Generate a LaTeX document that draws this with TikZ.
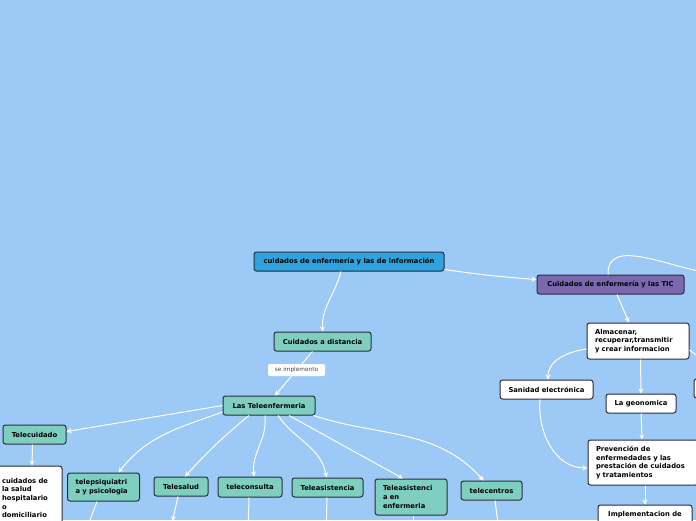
\documentclass[tikz,border=0pt]{standalone}
\usepackage{fontspec}
\setmainfont{DejaVu Sans}
\usetikzlibrary{arrows.meta}
\definecolor{bgc}{HTML}{9CC9F5}
\definecolor{teal}{HTML}{7ECFC0}
\definecolor{topblue}{HTML}{2EA3DD}
\definecolor{purp}{HTML}{7B68AE}
\definecolor{bd}{HTML}{2B2B3B}
\tikzset{
  box/.style={draw=bd, line width=1pt, rounded corners=2.5pt, inner sep=0pt,
    font=\bfseries\fontsize{6.8}{8.6}\selectfont, text=black},
  tealbox/.style={box, fill=teal, align=center},
  whitebox/.style={box, fill=white, align=center},
  leftbox/.style={align=left, inner xsep=8pt},
  edge/.style={draw=white, line width=1pt, -{Stealth[length=5pt,width=5pt]}},
  plain/.style={draw=white, line width=1pt},
  lbl/.style={fill=white, rounded corners=2pt, inner sep=0pt, minimum width=57pt,
    minimum height=12pt, font=\fontsize{5.8}{6}\selectfont, text=black!70}
}
\begin{document}
\begin{tikzpicture}[x=1pt,y=1pt]
\fill[bgc] (0,0) rectangle (696,-520);
\useasboundingbox (0,0) rectangle (696,-520);

% nodes
\node[box, fill=topblue, minimum width=190pt, minimum height=19pt] (top) at (349,-261.5)
  {cuidados de enfermería y las de información};
\node[box, fill=purp, minimum width=147pt, minimum height=19pt] (tic) at (610.5,-284.5)
  {Cuidados de enfermería y las TIC};
\node[tealbox, minimum width=97pt, minimum height=19pt] (dist) at (322.5,-341.5) {Cuidados a distancia};
\node[tealbox, minimum width=92pt, minimum height=19pt] (tele) at (269,-405.5) {Las Teleenfermeria};
\node[tealbox, minimum width=63pt, minimum height=19pt] (tcuid) at (34.5,-434.5) {Telecuidado};
\node[whitebox, leftbox, text width=54pt, minimum height=64pt, inner xsep=6pt] (csalud) at (29,-498)
  {cuidados de\\la salud\\hospitalario\\o\\domiciliario\\[8pt]};
\node[tealbox, leftbox, text width=56pt, minimum height=28pt] (tpsiq) at (103.5,-487)
  {telepsiquiatri\\a y psicologia};
\node[tealbox, minimum width=54pt, minimum height=19pt] (tsalud) at (181,-486.5) {Telesalud};
\node[tealbox, minimum width=64pt, minimum height=20pt] (tcons) at (250,-487) {teleconsulta};
\node[tealbox, minimum width=71pt, minimum height=19pt] (tasis) at (327.5,-487.5) {Teleasistencia};
\node[tealbox, leftbox, text width=56pt, minimum height=36pt] (tasenf) at (411,-497)
  {Teleasistenci\\a en\\enfermeria};
\node[tealbox, minimum width=61pt, minimum height=19pt] (tcent) at (491.5,-490.5) {telecentros};

\node[whitebox, leftbox, text width=86pt, minimum height=36pt] (alm) at (638,-341)
  {Almacenar,\\recuperar,transmitir\\y crear informacion};
\node[whitebox, minimum width=93pt, minimum height=19pt] (san) at (546.5,-389.5) {Sanidad electrónica};
\node[whitebox, minimum width=70pt, minimum height=19pt] (geo) at (641,-403.5) {La geonomica};
\node[whitebox, minimum width=36pt, minimum height=19pt] (part) at (712,-388.5) {};
\node[whitebox, leftbox, text width=94pt, minimum height=45pt] (prev) at (643,-462.5)
  {Prevención de\\enfermedades y las\\prestación de cuidados\\y tratamientos};
\node[whitebox, minimum width=94pt, minimum height=26pt, anchor=north] (impl) at (645,-504.5)
  {\raisebox{9pt}{Implementacion de}};

% off-picture ends
\coordinate (b1) at (84.5,-535);
\coordinate (b2) at (172.5,-521);
\coordinate (b3) at (248,-535);
\coordinate (b4) at (326,-535);
\coordinate (b5) at (413,-535);
\coordinate (b6) at (499.5,-535);
\coordinate (r1) at (705,-272);
\coordinate (r2) at (717,-370);

% edges
\draw[edge] ([xshift=-8pt]top.south) to[out=-105,in=92] ([xshift=0pt]dist.north);
\draw[edge] ([yshift=-8pt]top.east) to[bend right=2] ([yshift=5pt]tic.west);
\draw[edge] ([xshift=-10pt]dist.south) -- ([xshift=6pt]tele.north);
\node[lbl] (sei) at (296.5,-370) {se implemento};

\draw[edge] (tele.west) -- ([yshift=3pt]tcuid.east);
\draw[edge] ([yshift=-6.5pt]tele.west) to[out=200,in=52] ([xshift=15pt]tpsiq.north);
\draw[edge] ([xshift=-20pt]tele.south) to[bend right=4] ([xshift=4pt]tsalud.north);
\draw[edge] ([xshift=-4pt]tele.south) to[out=-84,in=96] ([xshift=4pt]tcons.north);
\draw[edge] ([xshift=9pt]tele.south) to[out=-55,in=100] ([xshift=-1pt]tasis.north);
\draw[edge] ([xshift=20pt]tele.south) -- ([xshift=-8pt]tasenf.north);
\draw[edge] ([xshift=-2pt]tele.south east) to[out=-18,in=132] ([xshift=-8pt]tcent.north);

\draw[edge] ([xshift=-2pt]tcuid.south) -- ([xshift=3pt]csalud.north);
\draw[edge] ([xshift=-6.5pt]tpsiq.south) -- (b1);
\draw[edge] ([xshift=-3pt]tsalud.south) -- (b2);
\draw[edge] ([xshift=-1pt]tcons.south) -- (b3);
\draw[edge] ([xshift=-0.5pt]tasis.south) -- (b4);
\draw[edge] ([xshift=2pt]tasenf.south) -- (b5);
\draw[edge] ([xshift=3.5pt]tcent.south) -- (b6);

\draw[plain] ([xshift=-2.5pt]tic.north) to[out=92,in=172] (r1);
\draw[edge] ([xshift=6.5pt]tic.south) -- ([xshift=-9pt]alm.north);
\draw[edge] ([yshift=-8pt]alm.west) to[out=188,in=90] ([xshift=1.5pt]san.north);
\draw[edge] ([xshift=2.5pt]alm.south) -- (geo.north);
\draw[plain] ([yshift=-9pt]alm.east) -- (r2);
\draw[edge] ([xshift=-6.5pt]san.south) to[out=-95,in=180] ([yshift=-5.5pt]prev.west);
\draw[edge] (geo.south) -- ([xshift=-1pt]prev.north);
\draw[edge] ([xshift=2pt]prev.south) -- (impl.north);
\end{tikzpicture}
\end{document}
